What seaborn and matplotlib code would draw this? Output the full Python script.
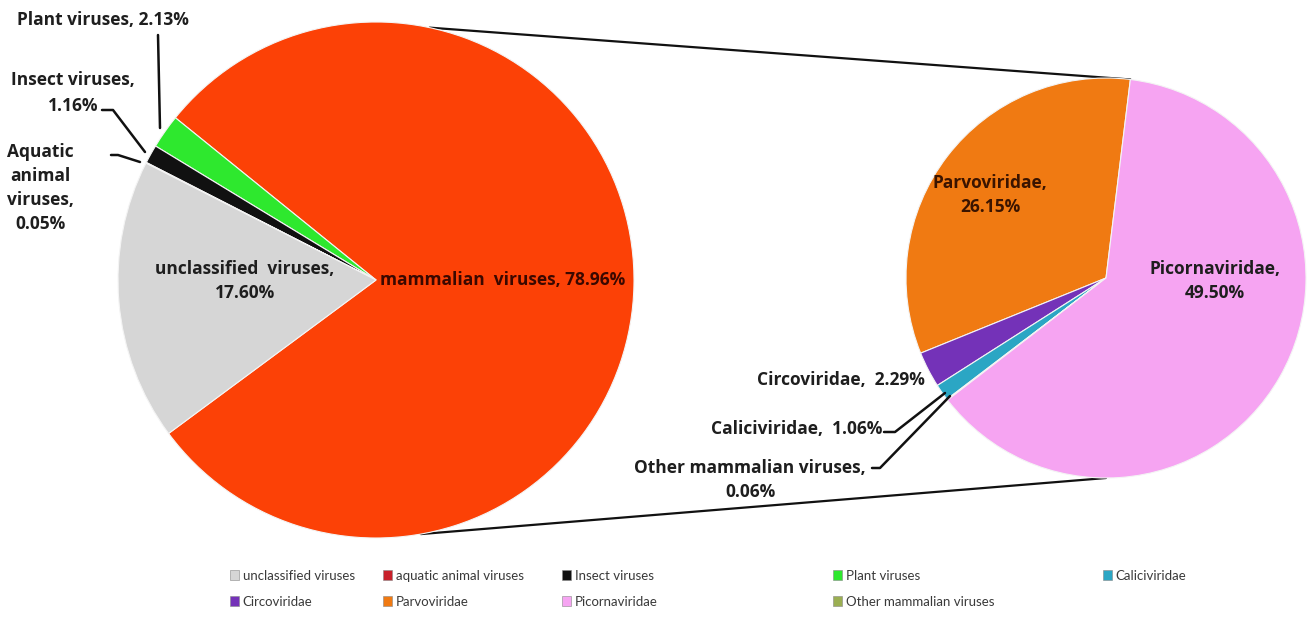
import numpy as np
import matplotlib
matplotlib.use('Agg')
import matplotlib.pyplot as plt
import matplotlib.patches as mpatches
import seaborn as sns

# ─────────────────────────────────────────
# DATA
# ─────────────────────────────────────────
left_labels = ['mammalian viruses', 'Plant viruses', 'Insect viruses',
               'Aquatic animal viruses', 'unclassified viruses']
left_values = [78.96, 2.13, 1.16, 0.05, 17.60]

right_labels = ['Parvoviridae', 'Circoviridae', 'Caliciviridae',
                'Other mammalian viruses', 'Picornaviridae']
right_values = [26.15, 2.29, 1.06, 0.06, 49.50]

legend_labels = ['unclassified viruses', 'aquatic animal viruses', 'Insect viruses',
                 'Plant viruses', 'Caliciviridae', 'Circoviridae', 'Parvoviridae',
                 'Picornaviridae', 'Other mammalian viruses']

# ─────────────────────────────────────────
# STYLE
# ─────────────────────────────────────────
sns.set_theme(style='white')
plt.rcParams['font.family'] = ['Lato', 'DejaVu Sans']

left_colors = ['#FC4106', '#2EE82E', '#111111', '#B0202A', '#D6D6D6']
right_colors = ['#F07A12', '#7432B8', '#2BA6C4', '#9BAF52', '#F6A4F2']
legend_colors = {
    'unclassified viruses': '#D6D6D6', 'aquatic animal viruses': '#C8202A',
    'Insect viruses': '#111111', 'Plant viruses': '#2EE82E',
    'Caliciviridae': '#2BA6C4', 'Circoviridae': '#7432B8',
    'Parvoviridae': '#F07A12', 'Picornaviridae': '#F6A4F2',
    'Other mammalian viruses': '#9BAF52'}

W, H = 1309, 630
fig = plt.figure(figsize=(W / 100, H / 100), dpi=100)
fig.patch.set_facecolor('white')
ax = fig.add_axes([0, 0, 1, 1])

# pie geometry (pixel-like data units, y up)
lc, lr = (376, 350), 258
rc, rr = (1106, 352), 200
l_start = 216.5
r_start = 83

ax.pie(left_values, colors=left_colors, startangle=l_start, center=lc, radius=lr,
       wedgeprops=dict(edgecolor='#f4f4f4', linewidth=0.8))
ax.pie(right_values, colors=right_colors, startangle=r_start, center=rc, radius=rr,
       wedgeprops=dict(edgecolor='#f4f4f4', linewidth=0.8))

ax.set_xlim(0, W)
ax.set_ylim(0, H)
ax.set_aspect('equal')
ax.axis('off')

# connector lines between the two pies
def on_circle(c, r, ang):
    a = np.deg2rad(ang)
    return c[0] + r * np.cos(a), c[1] + r * np.sin(a)

p1 = on_circle(lc, lr, 78)
p2 = on_circle(rc, rr, r_start)
p3 = on_circle(lc, lr, -80)
p4 = on_circle(rc, rr, -90)
ax.plot([p1[0], p2[0]], [p1[1], p2[1]], color='#111111', lw=1.6, zorder=0)
ax.plot([p3[0], p4[0]], [p3[1], p4[1]], color='#111111', lw=1.6, zorder=0)

# ─────────────────────────────────────────
# LABELS
# ─────────────────────────────────────────
tk = dict(fontsize=12.5, fontweight='bold', color='#1e1e1e',
          family=['Open Sans', 'DejaVu Sans'])

ax.text(380, 350, f'mammalian  viruses, {left_values[0]:.2f}%', ha='left', va='center',
        **{**tk, 'color': '#3a0800'})
ax.text(245, 349, f'unclassified  viruses,\n{left_values[4]:.2f}%', ha='center',
        va='center', linespacing=1.5, **tk)
ax.text(103, 610, f'Plant viruses, {left_values[1]:.2f}%', ha='center', va='center', **tk)
ax.text(73, 537, f'Insect viruses,\n{left_values[2]:.2f}%', ha='center', va='center',
        linespacing=1.6, **tk)
ax.text(40, 442, f'Aquatic\nanimal\nviruses,\n{left_values[3]:.2f}%', ha='center',
        va='center', linespacing=1.42, **tk)

ax.text(990, 435, f'Parvoviridae,\n{right_values[0]:.2f}%', ha='center', va='center',
        linespacing=1.5, **{**tk, 'color': '#3a1400'})
ax.text(1215, 349, f'Picornaviridae,\n{right_values[4]:.2f}%', ha='center', va='center',
        linespacing=1.5, **tk)
ax.text(925, 250, f'Circoviridae,  {right_values[1]:.2f}%', ha='right', va='center', **tk)
ax.text(882, 201, f'Caliciviridae,  {right_values[2]:.2f}%', ha='right', va='center', **tk)
ax.text(750, 150, f'Other mammalian viruses,\n{right_values[3]:.2f}%', ha='center',
        va='center', linespacing=1.45, **tk)

# leader lines
lk = dict(color='#111111', lw=1.8)
ax.plot([158, 160], [595, 502], **lk)
ax.plot([102, 113, 145], [520, 520, 478], **lk)
ax.plot([111, 118, 140], [475, 475, 468], **lk)
ax.plot([884, 895, 945], [198, 198, 237], **lk)
ax.plot([872, 880, 950], [162, 162, 234], **lk)

# ─────────────────────────────────────────
# LEGEND (5 columns, 2 rows)
# ─────────────────────────────────────────
col_x = [230, 383, 562, 833, 1103]
cols = [[legend_labels[i], legend_labels[i + 5]] if i + 5 < len(legend_labels)
        else [legend_labels[i]] for i in range(5)]
for x, names in zip(col_x, cols):
    handles = [mpatches.Patch(facecolor=legend_colors[n], edgecolor='#888888',
                              linewidth=0.4, label=n) for n in names]
    fig.legend(handles=handles, loc='upper left',
               bbox_to_anchor=(x / W, (H - 570) / H),
               frameon=False, fontsize=9.5, handlelength=0.65, handleheight=0.8,
               handletextpad=0.3, labelspacing=1.05, borderpad=0, borderaxespad=0,
               labelcolor='#3a3a3a')

plt.savefig('out.png', dpi=100, facecolor='white')
plt.close()
